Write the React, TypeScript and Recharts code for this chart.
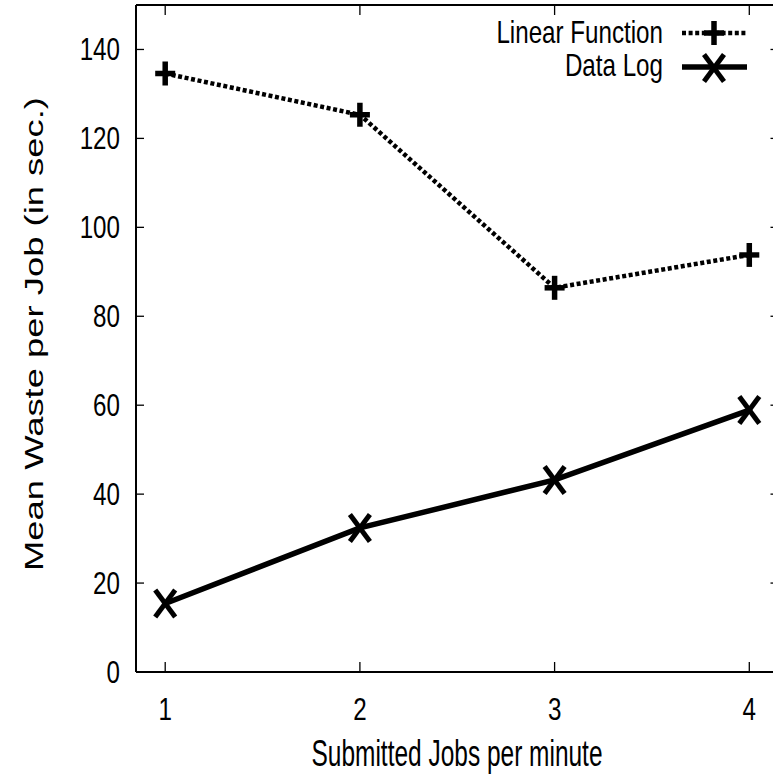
import { Line, LineChart, XAxis, YAxis } from "recharts";

const jobsPerMinute = [1, 2, 3, 4];
const linearFunction = [134.6, 125.3, 86.4, 93.8];
const dataLog = [15.4, 32.4, 43.2, 58.9];
const yTicks = [0, 20, 40, 60, 80, 100, 120, 140];
const seriesNames = ["Linear Function", "Data Log"];

const data = jobsPerMinute.map((x, i) => ({
  x,
  linear: linearFunction[i],
  log: dataLog[i],
}));

const FONT = "'Liberation Sans', Arial, Helvetica, sans-serif";

function NarrowText({ x, y, anchor, size, sx, children }: any) {
  return (
    <text
      transform={`translate(${x},${y}) scale(${sx},1)`}
      textAnchor={anchor}
      fontSize={size}
      fontFamily={FONT}
      fill="#000"
    >
      {children}
    </text>
  );
}

function Plus({ cx, cy }: any) {
  return (
    <g stroke="#000" strokeWidth={5.5} strokeLinecap="butt">
      <line x1={cx - 10} y1={cy} x2={cx + 10} y2={cy} />
      <line x1={cx} y1={cy - 12} x2={cx} y2={cy + 12} />
    </g>
  );
}

function Cross({ cx, cy }: any) {
  return (
    <g stroke="#000" strokeWidth={5} strokeLinecap="butt">
      <line x1={cx - 10} y1={cy - 13.5} x2={cx + 10} y2={cy + 13.5} />
      <line x1={cx - 10} y1={cy + 13.5} x2={cx + 10} y2={cy - 13.5} />
    </g>
  );
}

const YTick = ({ x, y, payload }: any) => (
  <NarrowText x={x} y={y + 11} anchor="end" size={31} sx={0.78}>
    {payload.value}
  </NarrowText>
);

const XTick = ({ x, y, payload }: any) => (
  <NarrowText x={x} y={y} anchor="middle" size={31} sx={0.78}>
    {payload.value}
  </NarrowText>
);

const NoTick = () => <g />;

export default function App() {
  return (
    <div
      style={{
        position: "absolute",
        left: 0,
        top: 0,
        width: 773,
        height: 780,
        overflow: "hidden",
        background: "#fff",
      }}
    >
      <LineChart
        width={790}
        height={780}
        data={data}
        margin={{ top: 0, right: 0, bottom: 0, left: 0 }}
      >
        <XAxis
          dataKey="x"
          type="number"
          domain={[0.85, 4.15]}
          ticks={jobsPerMinute}
          allowDataOverflow
          height={108}
          axisLine={{ stroke: "#000", strokeWidth: 2 }}
          tickLine={{ stroke: "#000", strokeWidth: 1.3 }}
          tickSize={-10}
          tickMargin={58}
          tick={<XTick />}
        />
        <XAxis
          xAxisId="top"
          orientation="top"
          dataKey="x"
          type="number"
          domain={[0.85, 4.15]}
          ticks={jobsPerMinute}
          allowDataOverflow
          height={5}
          axisLine={{ stroke: "#000", strokeWidth: 2 }}
          tickLine={{ stroke: "#000", strokeWidth: 1.3 }}
          tickSize={-10}
          tick={<NoTick />}
        />
        <YAxis
          type="number"
          domain={[0, 150]}
          ticks={yTicks}
          allowDataOverflow
          width={136}
          axisLine={{ stroke: "#000", strokeWidth: 2 }}
          tickLine={{ stroke: "#000", strokeWidth: 1.3 }}
          tickSize={-8}
          tickMargin={24}
          tick={<YTick />}
        />
        <YAxis
          yAxisId="right"
          orientation="right"
          type="number"
          domain={[0, 150]}
          ticks={yTicks}
          allowDataOverflow
          width={11.5}
          axisLine={{ stroke: "#000", strokeWidth: 2 }}
          tickLine={{ stroke: "#000", strokeWidth: 1.3 }}
          tickSize={-8}
          tick={<NoTick />}
        />
        <Line
          dataKey="linear"
          name={seriesNames[0]}
          type="linear"
          stroke="#000"
          strokeWidth={4.5}
          strokeDasharray="4 2.6"
          dot={<Plus />}
          activeDot={false}
          isAnimationActive={false}
        />
        <Line
          dataKey="log"
          name={seriesNames[1]}
          type="linear"
          stroke="#000"
          strokeWidth={5.5}
          dot={<Cross />}
          activeDot={false}
          isAnimationActive={false}
        />
      </LineChart>

      <svg
        width={773}
        height={780}
        style={{ position: "absolute", left: 0, top: 0, pointerEvents: "none" }}
      >
        {/* axis titles */}
        <NarrowText x={457} y={766} anchor="middle" size={36} sx={0.68}>
          Submitted Jobs per minute
        </NarrowText>
        <text
          transform="translate(43,334) rotate(-90) scale(1,0.7)"
          textAnchor="middle"
          fontSize={36.4}
          fontFamily={FONT}
          fill="#000"
        >
          Mean Waste per Job (in sec.)
        </text>

        {/* key */}
        <NarrowText x={663} y={43} anchor="end" size={31} sx={0.78}>
          {seriesNames[0]}
        </NarrowText>
        <line
          x1={682}
          y1={33}
          x2={747}
          y2={33}
          stroke="#000"
          strokeWidth={4.5}
          strokeDasharray="4 2.6"
        />
        <Plus cx={714} cy={33} />
        <NarrowText x={663} y={76} anchor="end" size={31} sx={0.78}>
          {seriesNames[1]}
        </NarrowText>
        <line x1={682} y1={67} x2={747} y2={67} stroke="#000" strokeWidth={5.5} />
        <Cross cx={714} cy={68} />
      </svg>
    </div>
  );
}
